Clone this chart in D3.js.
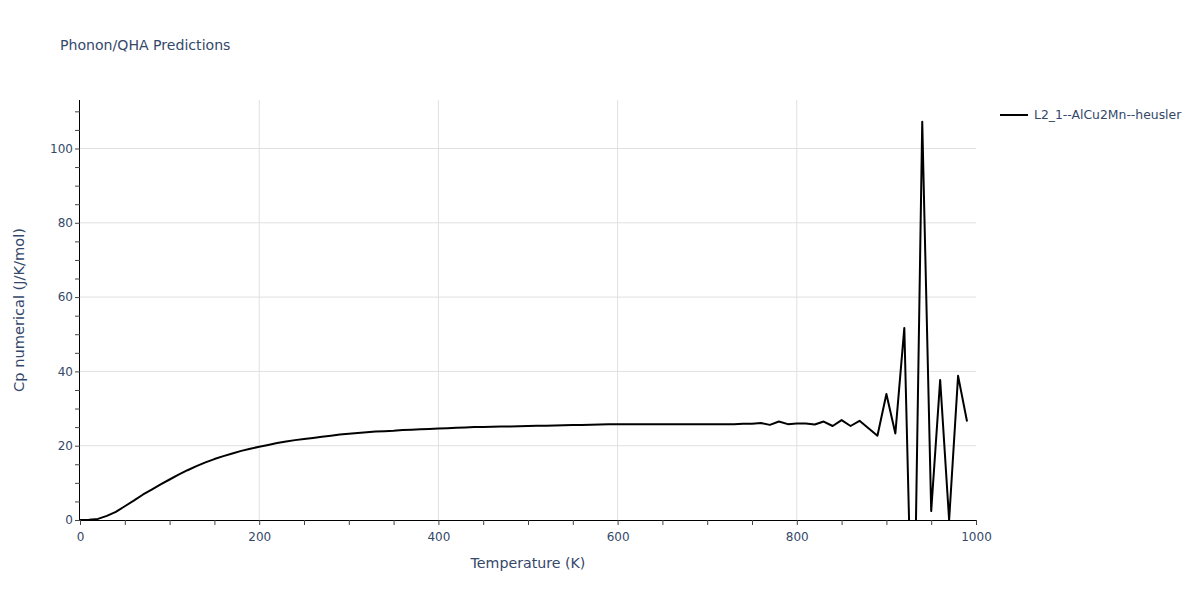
<!DOCTYPE html>
<html><head><meta charset="utf-8">
<script src="https://cdn.jsdelivr.net/npm/d3@7"></script>
<style>body{margin:0;background:#fff;} text{font-family:"DejaVu Sans",verdana,sans-serif;}</style>
</head><body><svg id="c" width="1200" height="600"></svg>
<script>
const temperatures = d3.range(0, 1000, 10);
const cpValues = [
 0, 0.05, 0.3, 1.1, 2.2, 3.7, 5.2, 6.8, 8.2, 9.6,
 10.9, 12.2, 13.4, 14.5, 15.5, 16.4, 17.2, 17.9, 18.6, 19.2,
 19.7, 20.2, 20.7, 21.1, 21.5, 21.8, 22.1, 22.4, 22.7, 23.0,
 23.2, 23.4, 23.6, 23.8, 23.9, 24.0, 24.2, 24.3, 24.4, 24.5,
 24.6, 24.7, 24.8, 24.9, 25.0, 25.05, 25.1, 25.15, 25.2, 25.25,
 25.3, 25.35, 25.4, 25.45, 25.5, 25.55, 25.6, 25.65, 25.7, 25.75,
 25.8, 25.8, 25.8, 25.8, 25.8, 25.8, 25.8, 25.8, 25.8, 25.8,
 25.8, 25.8, 25.8, 25.8, 25.9, 25.9, 26.1, 25.6, 26.5, 25.8,
 26.0, 26.0, 25.7, 26.5, 25.3, 26.9, 25.3, 26.7, 24.7, 22.7,
 33.9, 23.3, 51.7, -46, 107.2, 2.4, 37.7, 0, 38.8, 26.5
];
const xTicks = [0, 200, 400, 600, 800, 1000];
const yTicks = [0, 20, 40, 60, 80, 100];
const seriesName = "L2_1--AlCu2Mn--heusler";
</script>
<script>
const svg = d3.select("#c");
const L = 80, R = 976, T = 100, B = 520;
const x = d3.scaleLinear().domain([0, 1000]).range([L, R]);
const y = d3.scaleLinear().domain([0, 113.05]).range([B, T]);
const textColor = "#34486a";
const font = '"DejaVu Sans",verdana,sans-serif';

// grid
svg.append("g").selectAll("line").data(yTicks.filter(d => d > 0)).join("line")
  .attr("x1", L).attr("x2", R).attr("y1", d => y(d)).attr("y2", d => y(d))
  .attr("stroke", "#e0e0e0").attr("stroke-width", 1);
svg.append("g").selectAll("line").data(xTicks.filter(d => d > 0 && d < 1000)).join("line")
  .attr("y1", T).attr("y2", B).attr("x1", d => x(d)).attr("x2", d => x(d))
  .attr("stroke", "#e0e0e0").attr("stroke-width", 1);

// axes
const xAxis = d3.axisBottom(x).tickValues(d3.range(0, 1001, 50)).tickSize(5)
  .tickFormat(d => xTicks.includes(d) ? d : "");
const gx = svg.append("g").attr("transform", `translate(0,${B})`).call(xAxis);
gx.select(".domain").attr("stroke", "#000").attr("d", `M${L},0.5H${R}`);
gx.selectAll(".tick line").attr("stroke", "#444");
gx.selectAll(".tick text").attr("fill", textColor).attr("font-size", 12).attr("dy", "1.05em")
  .attr("font-family", font);

const yAxis = d3.axisLeft(y).tickValues(d3.range(0, 111, 5)).tickSize(5)
  .tickFormat(d => yTicks.includes(d) ? d : "");
const gy = svg.append("g").attr("transform", `translate(${L},0)`).call(yAxis);
gy.select(".domain").attr("stroke", "#000").attr("d", `M-0.5,${T}V${B}`);
gy.selectAll(".tick line").attr("stroke", "#444");
gy.selectAll(".tick text").attr("fill", textColor).attr("font-size", 12).attr("x", -7)
  .attr("font-family", font);

// clip
svg.append("clipPath").attr("id", "clip").append("rect")
  .attr("x", L).attr("y", T).attr("width", R - L).attr("height", B - T);

const pts = cpValues.map((v, i) => ({t: temperatures[i], v}));
svg.append("path").datum(pts).attr("clip-path", "url(#clip)")
  .attr("fill", "none").attr("stroke", "#000").attr("stroke-width", 2)
  .attr("stroke-linejoin", "round")
  .attr("d", d3.line().x(d => x(d.t)).y(d => y(d.v)));

// titles
svg.append("text").attr("x", 60).attr("y", 50).attr("fill", textColor).attr("font-size", 14.1)
  .text("Phonon/QHA Predictions");
svg.append("text").attr("x", (L + R) / 2).attr("y", 568).attr("text-anchor", "middle")
  .attr("fill", textColor).attr("font-size", 14.2).text("Temperature (K)");
svg.append("text").attr("transform", `translate(24,${(T + B) / 2}) rotate(-90)`)
  .attr("text-anchor", "middle").attr("fill", textColor).attr("font-size", 14.6)
  .text("Cp numerical (J/K/mol)");

// legend
svg.append("line").attr("x1", 1000).attr("x2", 1028).attr("y1", 115).attr("y2", 115)
  .attr("stroke", "#000").attr("stroke-width", 2);
svg.append("text").attr("x", 1034).attr("y", 119).attr("fill", textColor).attr("font-size", 12.4)
  .text(seriesName);
</script>
</body></html>
